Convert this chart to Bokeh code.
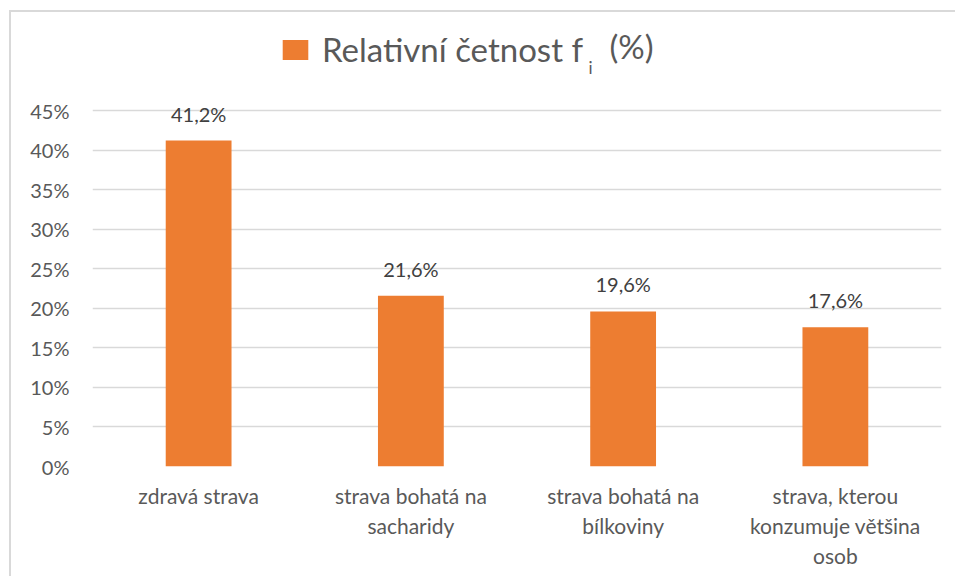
from bokeh.plotting import figure
from bokeh.models import (ColumnDataSource, FixedTicker, PrintfTickFormatter, Legend,
                          LegendItem, Label, Range1d)
from bokeh.core.properties import value
from bokeh.embed import file_html
from bokeh.resources import INLINE

# ---- data ----
categories = ["zdravá strava",
              "strava bohatá na\nsacharidy",
              "strava bohatá na\nbílkoviny",
              "strava, kterou\nkonzumuje většina\nosob"]
values = [41.2, 21.6, 19.6, 17.6]
y_ticks = [0, 5, 10, 15, 20, 25, 30, 35, 40, 45]
legend_main = "Relativní četnost f"
legend_sub = "i"
legend_tail = "(%)"

FONT = "Lato"
BAR = "#ED7D31"
GRAY = "#595959"

labels = [f"{v:.1f}".replace(".", ",") + "%" for v in values]
src = ColumnDataSource(dict(cat=categories, val=values, lab=labels))

p = figure(width=946, height=566, x_range=categories, y_range=Range1d(0, 57.39),
           output_backend="svg", toolbar_location=None,
           min_border_left=81, min_border_right=16, min_border_top=0, min_border_bottom=112)
p.styles = {"border-top": "2px solid #d9d9d9", "border-left": "2px solid #d9d9d9",
            "margin-top": "10px", "margin-left": "9px"}
p.outline_line_color = None
p.background_fill_color = "white"
p.border_fill_color = "white"

bars = p.vbar(x="cat", top="val", width=0.31, source=src, fill_color=BAR, line_color=None)

p.text(x="cat", y="val", text="lab", source=src, text_align="center",
       text_baseline="alphabetic", y_offset=-27, text_font=value(FONT),
       text_font_size="20px", text_color="#404040")

# axes
p.yaxis.ticker = FixedTicker(ticks=y_ticks)
p.yaxis.formatter = PrintfTickFormatter(format="%d%%")
for ax in (p.xaxis[0], p.yaxis[0]):
    ax.axis_line_color = None
    ax.major_tick_line_color = None
    ax.minor_tick_line_color = None
    ax.major_tick_out = 0
    ax.major_tick_in = 0
    ax.major_label_text_font = FONT
    ax.major_label_text_color = GRAY
p.yaxis.major_label_text_font_size = "20px"
p.xaxis.major_label_text_font_size = "21px"
p.yaxis.major_label_standoff = 23
p.xaxis.major_label_standoff = 16

p.xgrid.grid_line_color = None
p.ygrid.grid_line_color = "#d9d9d9"
p.ygrid.grid_line_width = 1.5
p.ygrid.ticker = FixedTicker(ticks=y_ticks)

# legend
legend = Legend(items=[LegendItem(label=legend_main, renderers=[bars])],
                location=(187, 397), orientation="horizontal", padding=0, margin=0,
                glyph_width=32, glyph_height=25, label_standoff=11, label_height=24,
                label_text_font=FONT, label_text_font_size="33px",
                label_text_color=GRAY, border_line_color=None, background_fill_alpha=0)
p.add_layout(legend, "center")

p.add_layout(Label(x=496, y=389, x_units="screen", y_units="screen", text=legend_sub,
                   text_font=FONT, text_font_size="17px", text_color=GRAY))
p.add_layout(Label(x=517, y=401, x_units="screen", y_units="screen", text=legend_tail,
                   text_font=FONT, text_font_size="33px", text_color=GRAY))

open("out.html", "w").write(file_html(p, INLINE))
